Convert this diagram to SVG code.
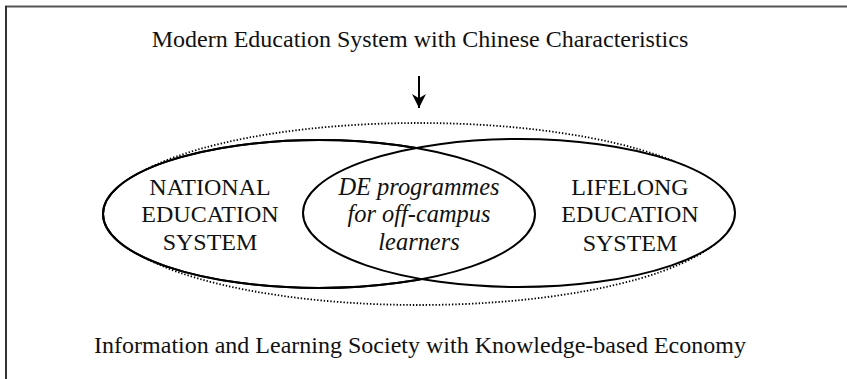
<svg xmlns="http://www.w3.org/2000/svg" width="847" height="379" viewBox="0 0 847 379">
<style>
text{font-family:'Liberation Serif','Times New Roman',serif;fill:#111;text-anchor:middle}
.big{font-size:24px}
.lbl{font-size:24px}
.it{font-style:italic;font-size:24.4px}
.solid{fill:#fff;stroke:#000;stroke-width:2}
.dot{fill:none;stroke:#000;stroke-width:1.8;stroke-dasharray:1.4 1.9}
</style>
<defs>
<marker id="ah" viewBox="0 0 10 10" refX="10" refY="5" markerWidth="16" markerHeight="14" markerUnits="userSpaceOnUse" orient="auto">
<path d="M0,0 L10,5 L0,10 L3,5 Z" fill="#000"/>
</marker>
</defs>
<rect x="0" y="0" width="847" height="379" fill="#fff"/>
<g id="frame">
<line x1="5" y1="6.5" x2="847" y2="6.5" stroke="#555" stroke-width="2"/>
<line x1="6" y1="6" x2="6" y2="379" stroke="#333" stroke-width="2"/>
</g>
<g id="title"><text class="big" x="420" y="47">Modern Education System with Chinese Characteristics</text></g>
<g id="connectors">
<line x1="419" y1="76" x2="419" y2="108" stroke="#000" stroke-width="2" marker-end="url(#ah)"/>
</g>
<g id="society">
<ellipse class="dot" cx="419" cy="214" rx="313" ry="91"/>
<text class="big" x="420" y="353">Information and Learning Society with Knowledge-based Economy</text>
</g>
<g id="national">
<ellipse class="solid" cx="319" cy="214" rx="216" ry="74"/>
</g>
<g id="lifelong">
<ellipse class="solid" cx="519" cy="213" rx="216" ry="74"/>
<path d="M319,214 m-216,0 a216,74 0 1,0 432,0 a216,74 0 1,0 -432,0" fill="none" stroke="#000" stroke-width="2"/>
</g>
<g id="national-text">
<text class="lbl" x="210" y="195">NATIONAL</text>
<text class="lbl" x="210" y="222">EDUCATION</text>
<text class="lbl" x="210" y="250">SYSTEM</text>
</g>
<g id="lifelong-text">
<text class="lbl" x="630" y="195">LIFELONG</text>
<text class="lbl" x="630" y="222">EDUCATION</text>
<text class="lbl" x="630" y="251">SYSTEM</text>
</g>
<g id="de">
<text class="it" x="419" y="195">DE programmes</text>
<text class="it" x="419" y="222">for off-campus</text>
<text class="it" x="419" y="250">learners</text>
</g>
</svg>
